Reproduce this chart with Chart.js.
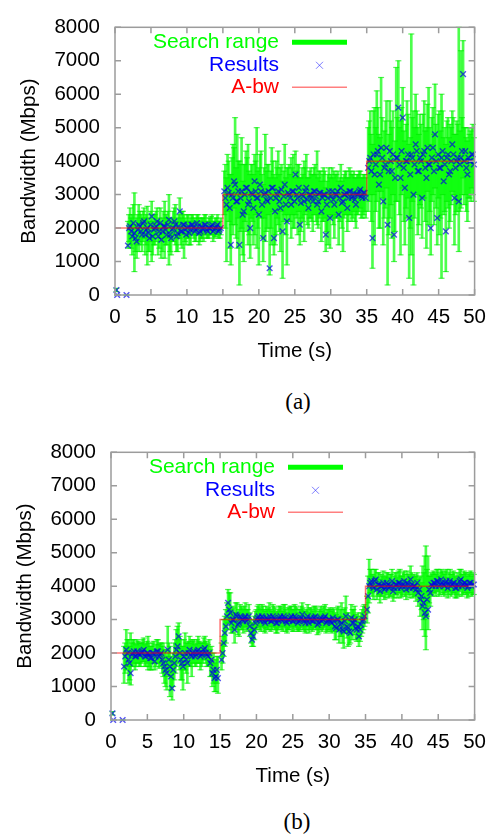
<!DOCTYPE html>
<html>
<head>
<meta charset="utf-8">
<script src="https://cdn.jsdelivr.net/npm/chart.js@4.4.0/dist/chart.umd.min.js"></script>
<style>
body { margin: 0; background: #fff; width: 496px; height: 835px; position: relative; overflow: hidden; }
.box { position: absolute; left: 0; width: 496px; height: 370px; }
.cap { position: absolute; width: 40px; text-align: center; font: 23px "Liberation Serif", "Times New Roman", serif; color: #000; line-height: 26px; }
</style>
</head>
<body>
<div class="box" style="top:0"><canvas id="chartA" width="496" height="370"></canvas></div>
<div class="cap" style="top:389px;left:278px">(a)</div>
<div class="box" style="top:425px"><canvas id="chartB" width="496" height="370"></canvas></div>
<div class="cap" style="top:809px;left:277px">(b)</div>
<script>
// temps des mesures (s), communs aux deux figures
var times = [0.2, 0.3, 1.6,
  1.8, 2.1, 2.4, 2.7, 3.0, 3.3, 3.6, 3.9, 4.2, 4.5, 4.8, 5.1, 5.4, 5.7, 6.0, 6.3, 6.6, 6.9, 7.2, 7.5, 7.8, 8.1, 8.4, 8.7, 9.0, 9.3, 9.6, 9.9, 10.2, 10.5, 10.8, 11.1, 11.4, 11.7, 12.0, 12.3, 12.6, 12.9, 13.2, 13.5, 13.8, 14.1, 14.4, 14.7,
  15.2, 15.5, 15.8, 16.1, 16.4, 16.7, 17.0, 17.3, 17.6, 17.9, 18.2, 18.5, 18.8, 19.1, 19.4, 19.7, 20.0, 20.3, 20.6, 20.9, 21.2, 21.5, 21.8, 22.1, 22.4, 22.7, 23.0, 23.3, 23.6, 23.9, 24.2, 24.5, 24.8, 25.1, 25.4, 25.7, 26.0, 26.3, 26.6, 26.9, 27.2, 27.5, 27.8, 28.1, 28.4, 28.7, 29.0, 29.3, 29.6, 29.9, 30.2, 30.5, 30.8, 31.1, 31.4, 31.7, 32.0, 32.3, 32.6, 32.9, 33.2, 33.5, 33.8, 34.1, 34.4, 34.7,
  35.2, 35.5, 35.8, 36.1, 36.4, 36.7, 37.0, 37.3, 37.6, 37.9, 38.2, 38.5, 38.8, 39.1, 39.4, 39.7, 40.0, 40.3, 40.6, 40.9, 41.2, 41.5, 41.8, 42.1, 42.4, 42.7, 43.0, 43.3, 43.6, 43.9, 44.2, 44.5, 44.8, 45.1, 45.4, 45.7, 46.0, 46.3, 46.6, 46.9, 47.2, 47.5, 47.8, 48.1, 48.4, 48.7, 49.0, 49.3, 49.6, 49.9];
// deuxième série de mesures, intercalée
var times2 = [
  1.95, 2.25, 2.55, 2.85, 3.15, 3.45, 3.75, 4.05, 4.35, 4.65, 4.95, 5.25, 5.55, 5.85, 6.15, 6.45, 6.75, 7.05, 7.35, 7.65, 7.95, 8.25, 8.55, 8.85, 9.15, 9.45, 9.75, 10.05, 10.35, 10.65, 10.95, 11.25, 11.55, 11.85, 12.15, 12.45, 12.75, 13.05, 13.35, 13.65, 13.95, 14.25, 14.55,
  15.35, 15.65, 15.95, 16.25, 16.55, 16.85, 17.15, 17.45, 17.75, 18.05, 18.35, 18.65, 18.95, 19.25, 19.55, 19.85, 20.15, 20.45, 20.75, 21.05, 21.35, 21.65, 21.95, 22.25, 22.55, 22.85, 23.15, 23.45, 23.75, 24.05, 24.35, 24.65, 24.95, 25.25, 25.55, 25.85, 26.15, 26.45, 26.75, 27.05, 27.35, 27.65, 27.95, 28.25, 28.55, 28.85, 29.15, 29.45, 29.75, 30.05, 30.35, 30.65, 30.95, 31.25, 31.55, 31.85, 32.15, 32.45, 32.75, 33.05, 33.35, 33.65, 33.95, 34.25, 34.55, 34.85,
  35.35, 35.65, 35.95, 36.25, 36.55, 36.85, 37.15, 37.45, 37.75, 38.05, 38.35, 38.65, 38.95, 39.25, 39.55, 39.85, 40.15, 40.45, 40.75, 41.05, 41.35, 41.65, 41.95, 42.25, 42.55, 42.85, 43.15, 43.45, 43.75, 44.05, 44.35, 44.65, 44.95, 45.25, 45.55, 45.85, 46.15, 46.45, 46.75, 47.05, 47.35, 47.65, 47.95, 48.25, 48.55, 48.85, 49.15, 49.45, 49.75];

// figure (a)
var resultsA = [150, 0, 0,
  1480, 2050, 1750, 1850, 1600, 2100, 1900, 2150, 1800, 2000, 1700, 2350, 1950, 2050, 1750, 2150, 1900, 2050, 1800, 2250, 1700, 2000, 2100, 1850, 2500, 1900, 2100, 1800, 2050, 1950, 2100, 1900, 2150, 1850, 2050, 1950, 2100, 1900, 2000, 2100, 1950, 2050, 1900, 2000,
  3100, 2700, 3050, 1500, 2900, 3300, 2800, 1500, 3100, 2500, 3200, 2700, 2000, 3000, 3400, 2900, 2400, 3100, 1700, 3050, 2800, 800, 3200, 1700, 2900, 3100, 2600, 1900, 3300, 2200, 3000, 2700, 3100, 3600, 2900, 2100, 3000, 2800, 3200, 2600, 3000, 2800, 3100, 2700, 3050, 2500, 3000, 1800, 2900, 2300, 3100, 2700, 3000, 2400, 3200, 2800, 3000, 2600, 3100, 2900, 3050, 2700, 3000, 3150, 2900, 3050,
  3800, 4100, 1700, 3600, 4200, 3300, 4400, 2800, 3900, 2100, 4300, 3700, 1800, 4100, 5600, 3500, 5300, 3200, 4000, 2300, 4200, 3000, 4500, 3700, 4100, 2900, 4300, 3500, 3900, 2000, 4400, 4800, 2300, 3800, 4100, 3400, 1900, 4200, 3700, 4500, 2900, 4000, 2800, 4100, 6600, 4300, 3600, 4000, 4200, 3900];
var lowA = [100, 0, 0,
  1400, 1500, 1200, 700, 1100, 1300, 1500, 1600, 1200, 900, 1300, 1000, 1500, 1600, 1200, 1700, 1300, 1100, 1500, 900, 1200, 1600, 1500, 1300, 1700, 1400, 1100, 1500, 1700, 1500, 1800, 1600, 1800, 1500, 1700, 1600, 1800, 1700, 1800, 1800, 1700, 1800, 1700, 1800,
  2400, 1000, 2200, 900, 1800, 2100, 1400, 300, 2000, 1000, 1900, 1500, 1100, 2200, 1800, 1400, 900, 2300, 1000, 1600, 2000, 600, 1500, 1200, 1800, 2100, 1300, 500, 2400, 900, 2200, 1700, 2000, 2400, 1800, 1500, 2300, 1600, 2500, 2000, 2300, 1900, 2400, 2100, 2300, 1600, 2200, 1300, 1500, 1400, 2400, 1700, 2300, 1500, 2500, 1300, 2400, 1900, 2400, 2200, 2500, 2000, 2400, 2600, 2300, 2500,
  2500, 3000, 800, 1500, 2800, 2000, 3100, 1500, 2600, 300, 2300, 1700, 1000, 2800, 3800, 1200, 3200, 1500, 2300, 500, 1200, 300, 3000, 1800, 2700, 1700, 2900, 1400, 2100, 1200, 3000, 3200, 1500, 1800, 500, 2400, 700, 2600, 2200, 3100, 1500, 2500, 1300, 2600, 3500, 3000, 2200, 2900, 3200, 2800];
var highA = [200, 0, 0,
  2200, 2600, 2400, 3050, 2300, 2700, 2400, 2500, 2300, 2650, 2200, 2800, 2400, 2500, 2200, 2600, 2300, 2800, 2300, 3000, 2200, 2500, 2700, 2300, 2900, 2500, 2400, 2200, 2400, 2300, 2400, 2200, 2400, 2300, 2300, 2300, 2400, 2200, 2300, 2400, 2200, 2300, 2200, 2300,
  3700, 3500, 4000, 3600, 4500, 5300, 4800, 4000, 4700, 3900, 4300, 4500, 3600, 3900, 4200, 5000, 3800, 4300, 3300, 4800, 3900, 3500, 4400, 3600, 4000, 4300, 3800, 3400, 4500, 3800, 3900, 4100, 4200, 4300, 3900, 3500, 3800, 4000, 4200, 3500, 3800, 3600, 3900, 4300, 3700, 3400, 3800, 3200, 3600, 3500, 3800, 3700, 3600, 3400, 3900, 3500, 3700, 3500, 3800, 3600, 3700, 3500, 3600, 3700, 3500, 3600,
  5000, 5500, 4500, 5600, 6100, 4800, 6500, 4400, 5200, 4000, 5800, 5000, 3600, 6800, 7000, 5200, 6200, 4600, 5800, 4500, 7800, 5500, 6000, 5000, 5400, 4300, 5800, 5000, 6200, 4500, 5600, 6300, 4200, 5500, 6000, 4700, 4500, 5300, 5100, 5500, 4800, 5200, 8000, 7300, 7600, 5000, 4600, 4800, 5000, 4700];
var resultsA2 = [
  2000, 1900, 2150, 1700, 1950, 2050, 1800, 2200, 1950, 1850, 2100, 1750, 2000, 2200, 1900, 1650, 2050, 1950, 2100, 1800, 1950, 2200, 1750, 2050, 1900, 2100, 1950, 2000, 1850, 2100, 2000, 1950, 2050, 1900, 2000, 2100, 1950, 2000, 2050, 1900, 2000, 2100, 1950,
  2900, 3200, 2600, 3000, 3400, 2800, 3100, 2900, 2400, 3000, 3200, 2800, 3050, 2600, 3100, 2900, 3300, 2700, 3000, 2850, 3100, 2900, 3200, 2500, 3000, 2800, 3150, 2950, 2700, 3050, 2900, 3100, 2800, 3000, 3200, 2750, 2950, 3100, 2850, 3000, 2900, 3100, 2950, 2800, 3050, 2900, 3000, 2700, 3100, 2950, 2850, 3000, 3100, 2900, 2750, 3000, 3050, 2900, 3100, 2950, 2850, 3000, 3100, 2950, 3050, 2900,
  4000, 3700, 4200, 3900, 4300, 3600, 4100, 3800, 4400, 3700, 4000, 4200, 3500, 4100, 3900, 4300, 3800, 4000, 4200, 3600, 4100, 3900, 4300, 3700, 4000, 4200, 3800, 4400, 3900, 4100, 3700, 4000, 4200, 3800, 4300, 3900, 4100, 3600, 4000, 4200, 3800, 4100, 3900, 4300, 4000, 3800, 4100, 4000, 4200];
var lowA2 = [
  1600, 1400, 1700, 1300, 1500, 1600, 1300, 1700, 1500, 1300, 1600, 1200, 1500, 1800, 1400, 1100, 1600, 1500, 1700, 1300, 1600, 1800, 1300, 1700, 1500, 1800, 1600, 1700, 1500, 1800, 1700, 1600, 1800, 1600, 1700, 1800, 1700, 1700, 1800, 1600, 1750, 1800, 1700,
  2000, 2500, 1400, 2100, 2600, 1700, 2300, 1900, 1200, 2200, 2400, 1800, 2300, 1500, 2400, 2000, 2500, 1700, 2300, 1900, 2400, 2000, 2500, 1500, 2300, 1900, 2500, 2200, 1800, 2400, 2200, 2400, 2000, 2300, 2500, 1900, 2200, 2400, 2100, 2300, 2200, 2400, 2200, 2000, 2400, 2200, 2300, 1900, 2400, 2300, 2100, 2300, 2400, 2200, 2000, 2300, 2400, 2200, 2400, 2300, 2200, 2400, 2500, 2300, 2400, 2300,
  2800, 2200, 3000, 2500, 3100, 2000, 2900, 2300, 3200, 1800, 2700, 3000, 1900, 2800, 2400, 3000, 2200, 2600, 2900, 2000, 2800, 2300, 3000, 2100, 2600, 2900, 2200, 3100, 2500, 2800, 2100, 2600, 2900, 2300, 3000, 2500, 2800, 2000, 2700, 3000, 2400, 2800, 2500, 3000, 2700, 2500, 2900, 2800, 3000];
var highA2 = [
  2400, 2300, 2700, 2100, 2400, 2500, 2300, 2600, 2400, 2300, 2500, 2200, 2400, 2600, 2300, 2100, 2500, 2400, 2500, 2300, 2300, 2600, 2200, 2400, 2300, 2500, 2300, 2400, 2200, 2400, 2300, 2300, 2400, 2200, 2300, 2400, 2200, 2300, 2350, 2200, 2300, 2400, 2200,
  3900, 4200, 3600, 4100, 4400, 3800, 4000, 3900, 3400, 3900, 4100, 3700, 3900, 3600, 4000, 3700, 4200, 3600, 3800, 3700, 3900, 3700, 4000, 3500, 3800, 3600, 3900, 3700, 3500, 3800, 3600, 3800, 3500, 3700, 3900, 3500, 3600, 3800, 3500, 3700, 3600, 3800, 3600, 3500, 3700, 3600, 3700, 3400, 3800, 3600, 3500, 3600, 3700, 3500, 3400, 3600, 3700, 3500, 3700, 3600, 3500, 3600, 3700, 3500, 3600, 3500,
  5200, 4800, 5500, 5000, 5600, 4700, 5300, 4900, 5800, 4800, 5200, 5500, 4600, 5300, 5000, 5600, 4900, 5100, 5400, 4700, 5300, 5000, 5500, 4800, 5100, 5400, 4900, 5700, 5000, 5300, 4800, 5100, 5400, 4900, 5500, 5000, 5200, 4700, 5000, 5300, 4800, 5100, 4900, 5300, 5000, 4700, 5000, 4900, 5100];

// figure (b)
var resultsB = [200, 0, 0,
  1600, 2100, 1800, 1400, 2000, 1900, 2050, 1950, 2000, 2100, 1900, 2000, 1850, 2000, 1750, 2050, 1900, 2000, 1700, 1500, 2100, 1600, 950, 1700, 2100, 2500, 1800, 1600, 2000, 1700, 2100, 1900, 2050, 1950, 2100, 1900, 2000, 2150, 1950, 2000, 1800, 1500, 1300, 1250,
  1800, 2300, 2800, 3500, 3200, 3000, 2700, 3100, 2900, 3050, 2950, 3100, 3000, 2800, 2400, 2700, 3000, 3100, 2950, 3050, 2900, 3000, 3100, 2950, 3050, 2900, 3000, 3100, 2950, 3050, 2900, 3000, 3100, 2950, 3050, 2900, 3000, 3150, 2950, 3000, 2900, 3050, 2950, 3100, 2850, 3000, 2950, 3050, 2900, 3000, 2950, 3050, 2800, 3000, 2700, 2900, 2650, 3100, 2750, 2600, 2900, 3000, 2700, 2500, 2850, 3000,
  3300, 4000, 4150, 3950, 4200, 4050, 3850, 4000, 3900, 4100, 3950, 4000, 3850, 4050, 3950, 4100, 4000, 4150, 3900, 4050, 4200, 3950, 4000, 4100, 3900, 3700, 3500, 3100, 3300, 3800, 4000, 4100, 4150, 4000, 4200, 4050, 4100, 3950, 4150, 4050, 4100, 3950, 4000, 4200, 4050, 4100, 3950, 4100, 4000, 4050];
var lowB = [150, 0, 0,
  1100, 1500, 1100, 1050, 1600, 1500, 1700, 1600, 1700, 1750, 1600, 1500, 1500, 1700, 1500, 1700, 1550, 1700, 1300, 1000, 1500, 700, 600, 1200, 1600, 1900, 1200, 900, 1500, 1100, 1600, 1300, 1700, 1600, 1700, 1500, 1700, 1800, 1600, 1650, 1300, 1100, 850, 800,
  1500, 1900, 2300, 2900, 2700, 2600, 2300, 2700, 2500, 2700, 2600, 2800, 2700, 2500, 2200, 2400, 2700, 2800, 2650, 2750, 2600, 2700, 2800, 2700, 2750, 2600, 2700, 2800, 2650, 2750, 2600, 2700, 2800, 2650, 2750, 2650, 2700, 2800, 2650, 2700, 2600, 2750, 2700, 2800, 2550, 2700, 2650, 2750, 2600, 2700, 2650, 2750, 2400, 2650, 2300, 2500, 2150, 2600, 2200, 2300, 2400, 2700, 2350, 2200, 2500, 2700,
  2900, 3500, 3800, 3600, 3900, 3700, 3500, 3700, 3600, 3800, 3650, 3700, 3550, 3750, 3650, 3800, 3700, 3850, 3600, 3750, 3900, 3650, 3700, 3800, 3600, 3300, 3000, 2100, 2700, 3400, 3700, 3800, 3850, 3700, 3900, 3750, 3800, 3650, 3850, 3750, 3800, 3650, 3700, 3900, 3750, 3800, 3650, 3800, 3700, 3750];
var highB = [250, 0, 0,
  2200, 2700, 2400, 2600, 2400, 2300, 2400, 2300, 2300, 2450, 2300, 2500, 2200, 2300, 2100, 2400, 2250, 2300, 2300, 2100, 2800, 2200, 1800, 2300, 2700, 2900, 2400, 2200, 2600, 2300, 2500, 2400, 2400, 2300, 2500, 2300, 2300, 2500, 2300, 2400, 2200, 2000, 1800, 1900,
  2300, 3000, 3300, 3900, 3800, 3400, 3200, 3500, 3300, 3400, 3300, 3500, 3300, 3200, 2900, 3100, 3300, 3450, 3300, 3400, 3250, 3300, 3500, 3250, 3400, 3200, 3300, 3400, 3250, 3450, 3200, 3350, 3400, 3300, 3400, 3200, 3300, 3500, 3250, 3300, 3200, 3350, 3250, 3400, 3150, 3300, 3250, 3400, 3200, 3300, 3300, 3350, 3200, 3350, 3100, 3500, 3300, 3700, 3200, 3100, 3300, 3400, 3100, 2900, 3200, 3400,
  3700, 4800, 4500, 4300, 4500, 4400, 4200, 4300, 4250, 4400, 4250, 4350, 4150, 4400, 4250, 4500, 4300, 4450, 4200, 4350, 4600, 4250, 4300, 4400, 4250, 4100, 4400, 5200, 4900, 4300, 4350, 4400, 4500, 4300, 4500, 4400, 4450, 4250, 4500, 4350, 4400, 4250, 4300, 4500, 4350, 4400, 4300, 4400, 4300, 4350];
var resultsB2 = [
  1900, 2000, 1700, 1950, 2050, 1900, 2000, 1950, 2050, 1900, 2000, 1950, 1850, 2000, 1900, 2050, 1950, 1800, 1600, 1400, 1800, 1300, 1500, 1900, 2200, 2000, 1700, 1900, 1800, 2000, 1950, 2000, 1900, 2050, 2000, 1950, 2100, 2000, 1900, 1700, 1400, 1250, 1500,
  2000, 2600, 3100, 3300, 2900, 3000, 3150, 2850, 3100, 3000, 3050, 2950, 3100, 2600, 2500, 2900, 3050, 3000, 3100, 2950, 3050, 3000, 2950, 3100, 3000, 2900, 3050, 3000, 3100, 2950, 3000, 3050, 2950, 3100, 3000, 2950, 3050, 3000, 2900, 3100, 3000, 2950, 3050, 3000, 2900, 3050, 3000, 3100, 2950, 3000, 2900, 2950, 2750, 3000, 2850, 2700, 2950, 2800, 2650, 3050, 2900, 2750, 2800, 2700, 2950, 3100,
  3700, 4100, 4000, 4150, 3900, 4050, 4000, 4100, 3950, 4050, 4000, 4150, 3950, 4050, 4100, 3950, 4050, 4000, 4100, 3950, 4050, 4000, 3900, 3800, 3600, 3400, 3200, 3600, 3900, 4050, 4100, 4000, 4150, 4050, 4100, 4000, 4150, 4050, 4000, 4100, 3950, 4050, 4150, 4000, 4100, 4050, 4000, 4100, 4050];
var lowB2 = [
  1400, 1600, 1200, 1600, 1700, 1600, 1700, 1600, 1750, 1600, 1700, 1600, 1500, 1700, 1600, 1700, 1600, 1400, 1100, 900, 1300, 900, 1000, 1400, 1700, 1500, 1200, 1500, 1400, 1700, 1600, 1700, 1600, 1700, 1700, 1600, 1800, 1700, 1600, 1300, 1000, 850, 1100,
  1700, 2200, 2700, 2900, 2600, 2700, 2800, 2550, 2800, 2700, 2750, 2650, 2800, 2300, 2200, 2600, 2750, 2700, 2800, 2650, 2750, 2700, 2650, 2800, 2700, 2600, 2750, 2700, 2800, 2650, 2700, 2750, 2650, 2800, 2700, 2650, 2750, 2700, 2600, 2800, 2700, 2650, 2750, 2700, 2600, 2750, 2700, 2800, 2650, 2700, 2600, 2650, 2400, 2700, 2500, 2300, 2600, 2450, 2250, 2700, 2550, 2400, 2450, 2350, 2600, 2800,
  3200, 3800, 3700, 3850, 3600, 3750, 3700, 3800, 3650, 3750, 3700, 3850, 3650, 3750, 3800, 3650, 3750, 3700, 3800, 3650, 3750, 3700, 3550, 3400, 3100, 2700, 2500, 3100, 3500, 3750, 3800, 3700, 3850, 3750, 3800, 3700, 3850, 3750, 3700, 3800, 3650, 3750, 3850, 3700, 3800, 3750, 3700, 3800, 3750];
var highB2 = [
  2300, 2400, 2200, 2300, 2400, 2250, 2350, 2300, 2400, 2250, 2350, 2300, 2200, 2350, 2250, 2400, 2300, 2200, 2100, 1900, 2300, 1900, 2000, 2400, 2800, 2500, 2200, 2400, 2300, 2350, 2300, 2350, 2250, 2400, 2350, 2300, 2450, 2350, 2250, 2100, 1800, 1700, 1900,
  2500, 3100, 3500, 3800, 3300, 3350, 3500, 3200, 3450, 3350, 3400, 3300, 3450, 3000, 2900, 3250, 3400, 3350, 3450, 3300, 3400, 3350, 3300, 3450, 3350, 3250, 3400, 3350, 3450, 3300, 3350, 3400, 3300, 3450, 3350, 3300, 3400, 3350, 3250, 3450, 3350, 3300, 3400, 3350, 3250, 3400, 3350, 3450, 3300, 3350, 3250, 3300, 3150, 3400, 3300, 3100, 3350, 3200, 3050, 3450, 3300, 3150, 3200, 3100, 3300, 3450,
  4300, 4500, 4350, 4500, 4250, 4400, 4350, 4450, 4300, 4400, 4350, 4500, 4300, 4400, 4450, 4300, 4400, 4350, 4450, 4300, 4400, 4350, 4300, 4200, 4300, 4600, 4900, 4500, 4300, 4400, 4450, 4350, 4500, 4400, 4450, 4350, 4500, 4400, 4350, 4450, 4300, 4400, 4500, 4350, 4450, 4400, 4350, 4450, 4400];

// bande passante disponible (A-bw), en escalier
var abwTime = [0, 15, 15, 35, 35, 50];
var abwValue = [2000, 2000, 3000, 3000, 4000, 4000];

var xTicks = [0, 5, 10, 15, 20, 25, 30, 35, 40, 45, 50];
var yTicks = [0, 1000, 2000, 3000, 4000, 5000, 6000, 7000, 8000];
var legendLabels = ['Search range', 'Results', 'A-bw'];

var FONT = '"Liberation Sans", Arial, sans-serif';
Chart.defaults.font.family = FONT;
Chart.defaults.color = '#000';

// cadre gris, graduations vers l'intérieur et légende façon gnuplot
var cadre = {
  id: 'cadre',
  afterDraw: function(chart) {
    var ctx = chart.ctx, a = chart.chartArea;
    var sx = chart.scales.x, sy = chart.scales.y;
    ctx.save();
    ctx.strokeStyle = '#9c9c9c';
    ctx.lineWidth = 1.5;
    ctx.strokeRect(a.left, a.top, a.right - a.left, a.bottom - a.top);
    ctx.beginPath();
    sx.ticks.forEach(function(t) {
      var px = sx.getPixelForValue(t.value);
      ctx.moveTo(px, a.bottom); ctx.lineTo(px, a.bottom - 6);
      ctx.moveTo(px, a.top); ctx.lineTo(px, a.top + 6);
    });
    sy.ticks.forEach(function(t) {
      var py = sy.getPixelForValue(t.value);
      ctx.moveTo(a.left, py); ctx.lineTo(a.left + 6, py);
      ctx.moveTo(a.right, py); ctx.lineTo(a.right - 6, py);
    });
    ctx.stroke();

    // légende
    var tx = a.left + 164, x1 = a.left + 177, x2 = a.left + 232;
    var rows = [a.top + 15, a.top + 38, a.top + 60];
    ctx.font = '21px ' + FONT;
    ctx.textAlign = 'right';
    ctx.textBaseline = 'middle';
    ctx.fillStyle = '#00ff00'; ctx.fillText(legendLabels[0], tx, rows[0]);
    ctx.fillStyle = '#0000ff'; ctx.fillText(legendLabels[1], tx, rows[1]);
    ctx.fillStyle = '#ff0000'; ctx.fillText(legendLabels[2], tx, rows[2]);
    ctx.lineCap = 'butt';
    ctx.strokeStyle = '#00ff00'; ctx.lineWidth = 5;
    ctx.beginPath(); ctx.moveTo(x1, rows[0]); ctx.lineTo(x2, rows[0]); ctx.stroke();
    var cx = (x1 + x2) / 2, r = 3.5;
    ctx.strokeStyle = 'rgba(20,20,255,0.55)'; ctx.lineWidth = 1;
    ctx.beginPath();
    ctx.moveTo(cx - r, rows[1] - r); ctx.lineTo(cx + r, rows[1] + r);
    ctx.moveTo(cx - r, rows[1] + r); ctx.lineTo(cx + r, rows[1] - r);
    ctx.stroke();
    ctx.strokeStyle = 'rgba(255,0,0,0.5)'; ctx.lineWidth = 1.5;
    ctx.beginPath(); ctx.moveTo(x1, rows[2]); ctx.lineTo(x2, rows[2]); ctx.stroke();
    ctx.restore();
  }
};

function creerGraphique(id, res, low, high, res2, low2, high2, leftW, rightPad) {
  var barres = [], bouts = [], points = [];
  function ajouter(tt, r, lo, hi) {
    tt.forEach(function(t, i) {
      barres.push({x: t, y: [lo[i], hi[i]]});
      bouts.push({x: t, y: lo[i]}, {x: t, y: hi[i]});
      points.push({x: t, y: r[i]});
    });
  }
  ajouter(times, res, low, high);
  ajouter(times2, res2, low2, high2);
  var abw = abwTime.map(function(t, i) { return {x: t, y: abwValue[i]}; });

  return new Chart(document.getElementById(id), {
    type: 'bar',
    data: {
      datasets: [
        { type: 'line', label: legendLabels[2], data: abw, borderColor: 'rgba(255,0,0,0.55)', borderWidth: 1.5, pointRadius: 0, fill: false, tension: 0, order: 1 },
        { type: 'scatter', label: legendLabels[1], data: points, pointStyle: 'crossRot', pointRadius: 4, pointBorderColor: 'rgba(0,0,230,0.68)', pointBorderWidth: 1.4, clip: false, order: 2 },
        { type: 'scatter', label: 'caps', data: bouts, pointStyle: 'line', pointRadius: 3, pointBorderColor: 'rgba(0,235,0,0.65)', pointBorderWidth: 1.2, clip: false, order: 3 },
        { type: 'bar', label: legendLabels[0], data: barres, backgroundColor: 'rgba(0,255,0,0.7)', borderWidth: 0, barThickness: 2, grouped: false, order: 4 }
      ]
    },
    options: {
      responsive: false,
      animation: false,
      events: [],
      layout: { padding: { top: 18, right: rightPad, left: 0, bottom: 0 } },
      plugins: { legend: { display: false }, tooltip: { enabled: false } },
      scales: {
        x: {
          type: 'linear', min: 0, max: 50, offset: false,
          grid: { display: false, drawTicks: false, offset: false },
          border: { display: false },
          afterBuildTicks: function(s) { s.ticks = xTicks.map(function(v) { return {value: v}; }); },
          ticks: { padding: 10, font: { size: 20.5 }, maxRotation: 0, autoSkip: false },
          title: { display: true, text: 'Time (s)', font: { size: 20.5 }, padding: { top: 0, bottom: 6 } },
          afterFit: function(s) { s.height = 75; }
        },
        y: {
          type: 'linear', min: 0, max: 8000,
          grid: { display: false, drawTicks: false },
          border: { display: false },
          afterBuildTicks: function(s) { s.ticks = yTicks.map(function(v) { return {value: v}; }); },
          ticks: { padding: 15, font: { size: 20.5 }, callback: function(v) { return String(v); } },
          title: { display: true, text: 'Bandwidth (Mbps)', font: { size: 20.5 }, padding: { top: leftW - 98, bottom: 0 } },
          afterFit: function(s) { s.width = leftW; }
        }
      }
    },
    plugins: [cadre]
  });
}

creerGraphique('chartA', resultsA, lowA, highA, resultsA2, lowA2, highA2, 115, 18);
creerGraphique('chartB', resultsB, lowB, highB, resultsB2, lowB2, highB2, 111, 20);
</script>
</body>
</html>
